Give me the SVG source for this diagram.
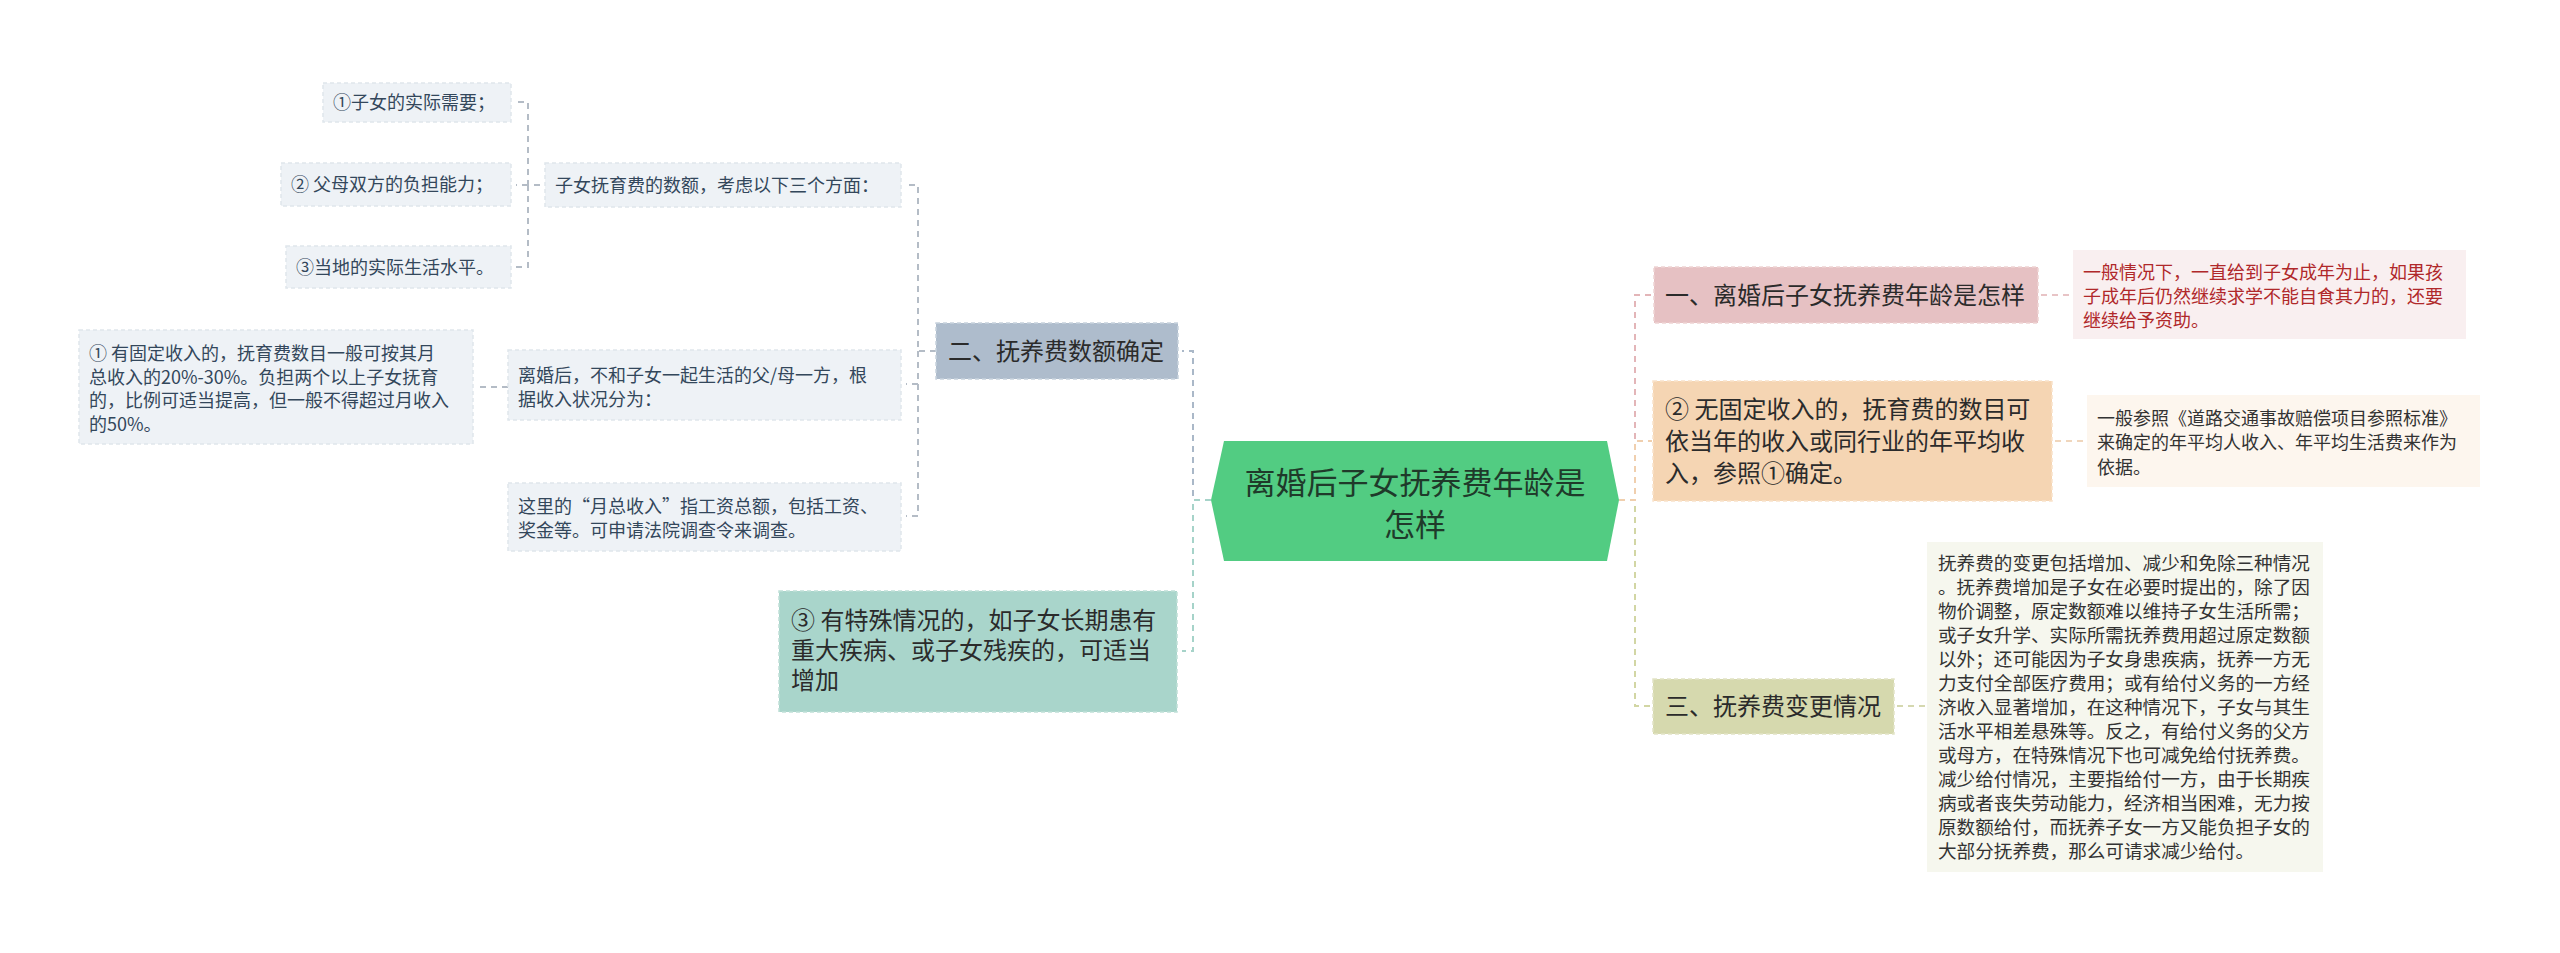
<svg xmlns="http://www.w3.org/2000/svg" width="2560" height="953" viewBox="0 0 2560 953">
<style>
text{font-family:"Noto Sans CJK SC","Noto Sans",sans-serif;}
.s{font-size:18px;fill:#33475b;}
.d{font-size:18px;fill:#333333;}
.m{font-size:24px;fill:#2b2b2b;}
.c{fill:none;stroke-width:2;stroke-dasharray:6 5;}
.g{stroke:#b4bcc6;}
.lb{fill:#eef2f6;stroke:#e0e6ec;stroke-width:1.5;stroke-dasharray:4 3;}
</style>
<rect width="2560" height="953" fill="#ffffff"/>
<g id="connectors">
<path class="c g" d="M540 185 H528 V102 H516 M528 185 V267 H516 M528 185 H516"/>
<path class="c g" d="M936 351 H918 V185 H906 M918 351 V516 H906 M918 384 H906"/>
<path class="c g" d="M508 387 H478"/>
<path class="c" stroke="#aab8c8" d="M1211 500 H1193 V351 H1182"/>
<path class="c" stroke="#a6d3c9" d="M1211 500 H1193 V651 H1182"/>
<path class="c" stroke="#e3b5b8" d="M1619 500 H1635 V295 H1652"/>
<path class="c" stroke="#d2d6a4" d="M1619 500 H1635 V706 H1652"/>
<path class="c" stroke="#f0cfae" d="M1619 500 H1635 V441 H1652"/>
<path class="c" stroke="#e8c4c6" d="M2041 295 H2071"/>
<path class="c" stroke="#f0d6bc" d="M2055 441 H2085"/>
<path class="c" stroke="#d5d8b0" d="M1897 706 H1926"/>
</g>
<g id="center">
<polygon points="1224,441 1607,441 1619,500 1607,561 1224,561 1211,500" fill="#52cc82"/>
<text x="1415" y="494" text-anchor="middle" font-size="31" fill="#1f3a2a">离婚后子女抚养费年龄是</text>
<text x="1415" y="536" text-anchor="middle" font-size="31" fill="#1f3a2a">怎样</text>
</g>
<g id="n2">
<rect x="936" y="323" width="242" height="56" fill="#aebccc" stroke="#c8d2dd" stroke-width="1.5" stroke-dasharray="4 3"/>
<text class="m" x="948" y="360">二、抚养费数额确定</text>
</g>
<g id="n2a">
<rect class="lb" x="545" y="163" width="356" height="44"/>
<text class="s" x="555" y="192">子女抚育费的数额，考虑以下三个方面：</text>
</g>
<g id="n2a1">
<rect class="lb" x="323" y="83" width="188" height="39"/>
<text class="s" x="333" y="109">①子女的实际需要；</text>
</g>
<g id="n2a2">
<rect class="lb" x="281" y="163" width="230" height="43"/>
<text class="s" x="291" y="191">② 父母双方的负担能力；</text>
</g>
<g id="n2a3">
<rect class="lb" x="286" y="246" width="225" height="42"/>
<text class="s" x="296" y="274">③当地的实际生活水平。</text>
</g>
<g id="n2b">
<rect class="lb" x="508" y="350" width="393" height="70"/>
<text class="s" x="518" y="382">离婚后，不和子女一起生活的父/母一方，根</text>
<text class="s" x="518" y="406">据收入状况分为：</text>
</g>
<g id="n2b1">
<rect class="lb" x="79" y="330" width="394" height="114"/>
<text class="s" x="89" y="360">① 有固定收入的，抚育费数目一般可按其月</text>
<text class="s" x="89" y="384">总收入的20%-30%。负担两个以上子女抚育</text>
<text class="s" x="89" y="407">的，比例可适当提高，但一般不得超过月收入</text>
<text class="s" x="89" y="431">的50%。</text>
</g>
<g id="n2c">
<rect class="lb" x="508" y="483" width="393" height="68"/>
<text class="s" x="518" y="513">这里的“月总收入”指工资总额，包括工资、</text>
<text class="s" x="518" y="537">奖金等。可申请法院调查令来调查。</text>
</g>
<g id="n3">
<rect x="779" y="591" width="398" height="121" fill="#a9d5cb" stroke="#c0e0d8" stroke-width="1.5" stroke-dasharray="4 3"/>
<text class="m" x="791" y="629">③ 有特殊情况的，如子女长期患有</text>
<text class="m" x="791" y="659">重大疾病、或子女残疾的，可适当</text>
<text class="m" x="791" y="689">增加</text>
</g>
<g id="r1">
<rect x="1654" y="267" width="384" height="56" fill="#e6c1c3" stroke="#eed3d4" stroke-width="1.5" stroke-dasharray="4 3"/>
<text class="m" x="1665" y="304">一、离婚后子女抚养费年龄是怎样</text>
</g>
<g id="r1a">
<rect x="2073" y="250" width="393" height="89" fill="#f9eff0"/>
<text class="d" x="2083" y="279" style="fill:#b0282a">一般情况下，一直给到子女成年为止，如果孩</text>
<text class="d" x="2083" y="303" style="fill:#b0282a">子成年后仍然继续求学不能自食其力的，还要</text>
<text class="d" x="2083" y="327" style="fill:#b0282a">继续给予资助。</text>
</g>
<g id="r2">
<rect x="1653" y="381" width="399" height="120" fill="#f5d5b3" stroke="#f9e2ca" stroke-width="1.5" stroke-dasharray="4 3"/>
<text class="m" x="1665" y="418">② 无固定收入的，抚育费的数目可</text>
<text class="m" x="1665" y="450">依当年的收入或同行业的年平均收</text>
<text class="m" x="1665" y="482">入，参照①确定。</text>
</g>
<g id="r2a">
<rect x="2087" y="395" width="393" height="92" fill="#fdf6ee"/>
<text class="d" x="2097" y="425">一般参照《道路交通事故赔偿项目参照标准》</text>
<text class="d" x="2097" y="449">来确定的年平均人收入、年平均生活费来作为</text>
<text class="d" x="2097" y="474">依据。</text>
</g>
<g id="r3">
<rect x="1653" y="679" width="241" height="55" fill="#d6d9ae" stroke="#e2e4c6" stroke-width="1.5" stroke-dasharray="4 3"/>
<text class="m" x="1665" y="715">三、抚养费变更情况</text>
</g>
<g id="r3a">
<rect x="1927" y="542" width="396" height="330" fill="#f6f7ee"/>
<g class="d" style="font-size:18.6px">
<text x="1938" y="570">抚养费的变更包括增加、减少和免除三种情况</text>
<text x="1938" y="594">。抚养费增加是子女在必要时提出的，除了因</text>
<text x="1938" y="618">物价调整，原定数额难以维持子女生活所需；</text>
<text x="1938" y="642">或子女升学、实际所需抚养费用超过原定数额</text>
<text x="1938" y="666">以外；还可能因为子女身患疾病，抚养一方无</text>
<text x="1938" y="690">力支付全部医疗费用；或有给付义务的一方经</text>
<text x="1938" y="714">济收入显著增加，在这种情况下，子女与其生</text>
<text x="1938" y="738">活水平相差悬殊等。反之，有给付义务的父方</text>
<text x="1938" y="762">或母方，在特殊情况下也可减免给付抚养费。</text>
<text x="1938" y="786">减少给付情况，主要指给付一方，由于长期疾</text>
<text x="1938" y="810">病或者丧失劳动能力，经济相当困难，无力按</text>
<text x="1938" y="834">原数额给付，而抚养子女一方又能负担子女的</text>
<text x="1938" y="858">大部分抚养费，那么可请求减少给付。</text>
</g>
</g>
</svg>
